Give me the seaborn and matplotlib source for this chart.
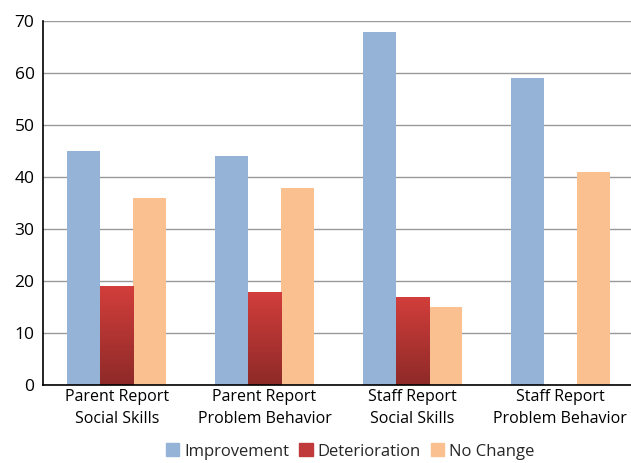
import numpy as np
import pandas as pd
import seaborn as sns
import matplotlib.pyplot as plt
from matplotlib.colors import LinearSegmentedColormap
from matplotlib.patches import Patch

categories = ['Parent Report\nSocial Skills', 'Parent Report\nProblem Behavior',
              'Staff Report\nSocial Skills', 'Staff Report\nProblem Behavior']
series = ['Improvement', 'Deterioration', 'No Change']
improvement = [45, 44, 68, 59]
deterioration = [19, 18, 17, 0]
no_change = [36, 38, 15, 41]

colors = ['#95b3d7', '#c0393b', '#fac090']

df = pd.DataFrame({'category': categories * 3,
                   'series': [series[0]] * 4 + [series[1]] * 4 + [series[2]] * 4,
                   'value': improvement + deterioration + no_change})

sns.set_style('white')
plt.rcParams['font.family'] = ['Open Sans', 'DejaVu Sans']

fig = plt.figure(figsize=(6.31, 4.63), dpi=100)
ax = fig.add_axes([0.068, 0.168, 0.932, 0.786])
sns.barplot(data=df, x='category', y='value', hue='series', palette=colors,
            width=0.67, ax=ax, legend=False, saturation=1, linewidth=0)

# gradient fill for the red bars
grad = LinearSegmentedColormap.from_list('red', ['#8e2a28', '#d23e3b'])
for p in ax.containers[1]:
    x0, y0 = p.get_x(), p.get_y()
    w, h = p.get_width(), p.get_height()
    if h <= 0:
        continue
    im = ax.imshow(np.linspace(0, 1, 100).reshape(-1, 1), cmap=grad, origin='lower',
                   extent=[x0, x0 + w, y0, y0 + h], aspect='auto', zorder=p.get_zorder() + 0.1)
    im.set_clip_path(p)

ax.set_xlim(-0.5, 3.48)
ax.set_ylim(0, 70)
ax.set_yticks(range(0, 71, 10))
ax.yaxis.grid(True, color='#999999', linewidth=1)
ax.set_axisbelow(True)
ax.set_xlabel('')
ax.set_ylabel('')
for s in ['top', 'right']:
    ax.spines[s].set_visible(False)
for s in ['left', 'bottom']:
    ax.spines[s].set_color('black')
    ax.spines[s].set_linewidth(1.2)
ax.tick_params(axis='y', labelsize=12.5, colors='black', length=0, pad=6)
ax.tick_params(axis='x', labelsize=11.5, colors='black', length=0, pad=3)
for t in ax.get_xticklabels():
    t.set_linespacing(1.5)

handles = [Patch(color=c, label=s) for c, s in zip(colors, series)]
fig.legend(handles=handles, loc='lower center', bbox_to_anchor=(0.555, -0.025), ncol=3,
           frameon=False, fontsize=12, handlelength=0.8, handleheight=0.8,
           handletextpad=0.3, columnspacing=0.6)

fig.savefig('out.png', dpi=100)
